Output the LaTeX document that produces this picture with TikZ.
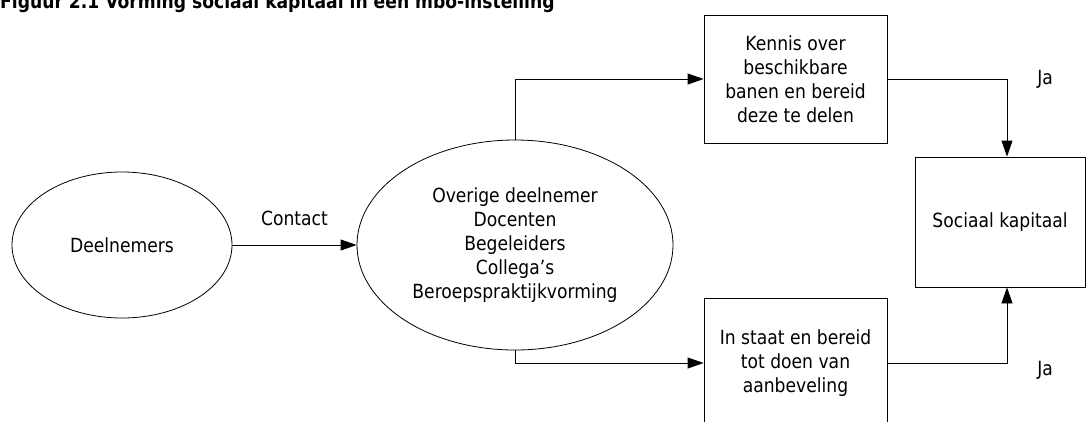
\documentclass[tikz,border=0pt]{standalone}
\usepackage{fontspec}
\setmainfont{DejaVu Sans}[FakeStretch=0.88]
\usetikzlibrary{arrows.meta, positioning, shapes.geometric}

\begin{document}
\begin{tikzpicture}[
    x=1pt, y=-1pt,
    font=\fontsize{19.5}{24}\selectfont,
    bubble/.style={draw, ellipse, line width=0.8pt, inner sep=0pt,
                   align=center},
    box/.style={draw, rectangle, line width=0.8pt, inner sep=0pt,
                align=center, minimum width=183pt, minimum height=128pt},
    arr/.style={-{Triangle[length=16pt, width=11pt]}, line width=0.8pt},
    lbl/.style={inner sep=0pt}
  ]
  \useasboundingbox (0,0) rectangle (1086,421);
  \clip (0,0) rectangle (1086,421);

  \node[lbl, anchor=base west, font=\fontsize{19.5}{23}\selectfont\bfseries]
    (title) at (0,8.5) {Figuur 2.1 Vorming sociaal kapitaal in een mbo-instelling};

  \node[bubble, minimum width=220pt, minimum height=146pt] (deel) at (122,245)
    {Deelnemers};
  \node[bubble, minimum width=316pt, minimum height=210pt] (overig) at (515,245) {%
    Overige deelnemer\\
    Docenten\\
    Begeleiders\\
    Collega’s\\
    Beroepspraktijkvorming
  };
  \node[box] (kennis) at (795.5,79) {%
    Kennis over\\
    beschikbare\\
    banen en bereid\\
    deze te delen
  };
  \node[box, minimum height=130pt] (staat) at (795.5,363) {%
    In staat en bereid\\
    tot doen van\\
    aanbeveling
  };
  \node[box, minimum width=170pt, minimum height=130pt] (kapitaal) at (1000,222)
    {Sociaal kapitaal};

  \draw[arr] (deel) -- node[lbl, above=19pt] {Contact} (overig);
  \draw[arr] (overig.north) |- (kennis.west);
  \draw[arr] (overig.south) |- (staat.west);
  \draw[arr] (kennis.east) -| ([xshift=7pt]kapitaal.north)
    node[lbl, pos=0.5, anchor=west, xshift=30pt] {Ja};
  \draw[arr] (staat.east) -| ([xshift=7pt]kapitaal.south)
    node[lbl, pos=0.5, anchor=west, xshift=30pt, yshift=-7pt] {Ja};

\end{tikzpicture}
\end{document}
